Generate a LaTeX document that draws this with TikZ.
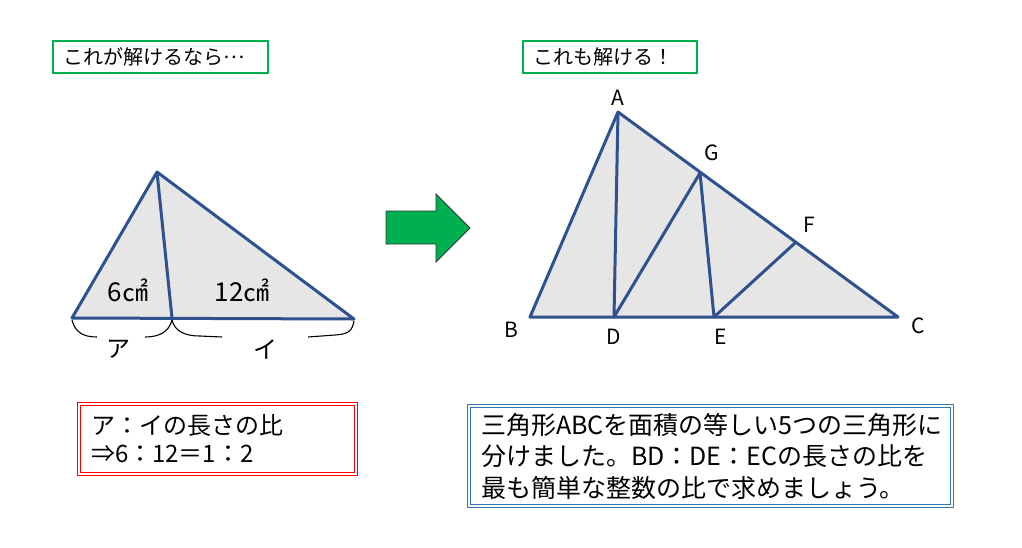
\documentclass[tikz,border=0pt]{standalone}
\usepackage{fontspec}
\setmainfont{Noto Sans CJK JP}
\definecolor{EdgeColor}{RGB}{47,82,143}
\definecolor{AreaColor}{RGB}{231,230,230}
\definecolor{HintColor}{RGB}{0,176,80}
\definecolor{NoteColor}{RGB}{255,0,0}
\definecolor{TaskColor}{RGB}{46,117,182}
\usetikzlibrary{positioning}
\tikzstyle{edge} = [line width=3pt, EdgeColor, line join=round]
\tikzstyle{area} = [edge, fill=AreaColor]
\tikzstyle{brace} = [line width=1.1pt, black]
\tikzstyle{vertex} = [inner sep=0pt, font=\fontsize{21}{24}\selectfont]
\tikzset{
  hint/.style={draw=HintColor, line width=1.5pt, minimum height=32pt, inner xsep=10pt, align=left, font=\fontsize{20}{24}\selectfont},
  note/.style={draw=NoteColor, line width=0.9pt, double=white, double distance=1.6pt, inner xsep=11pt, align=left, font=\fontsize{24}{28}\selectfont},
  task/.style={draw=TaskColor, line width=0.9pt, double=white, double distance=1.6pt, inner xsep=11pt, align=left, font=\fontsize{25}{31.5}\selectfont},
  go arrow/.style={fill=HintColor, draw=black!80, line width=0.8pt},
  size label/.style={inner sep=0pt, font=\fontsize{26}{30}\selectfont},
  part label/.style={inner sep=0pt, font=\fontsize{24}{28}\selectfont}
}
\begin{document}
\begin{tikzpicture}[x=1pt, y=-1pt]
  \useasboundingbox (0,0) rectangle (1022,547);

  % Captions
  \node[hint, text width=194pt, minimum width=215pt] (if) at (160.5,57) {これが解けるなら\raisebox{0.3em}{…}};
  \node[hint, text width=154pt, minimum width=174pt] (then) at (610,57) {これも解ける！};

  % Small triangle
  \coordinate (top) at (157,172);
  \coordinate (bl) at (72,318);
  \coordinate (br) at (354,319);
  \coordinate (foot) at (172,318);
  \filldraw[area] (top) -- (bl) -- (br) -- cycle;
  \draw[edge] (top) -- (foot);
  \node[size label] (six) at (128,290) {6㎠};
  \node[size label] (twelve) at (242,290) {12㎠};

  % Braces
  \draw[brace] ([yshift=-2pt]bl) .. controls +(3,12) and +(-14,0) .. (97,337);
  \draw[brace] (145,337) .. controls +(14,0) and +(-3,12) .. ([yshift=-2pt]foot);
  \draw[brace] ([yshift=-2pt]foot) .. controls +(3,12) and +(-14,0) .. (200,336) -- (222,337);
  \draw[brace] (308,337) -- (335,335) .. controls +(14,-1) and +(-2,10) .. ([yshift=-2pt]br);
  \node[part label] (pa) at (118,349) {ア};
  \node[part label] (pi) at (265,349) {イ};

  % Arrow
  \draw[go arrow] (386,211) -- (436,211) -- (436,194) -- (470,228) -- (436,262) -- (436,244) -- (386,244) -- cycle;

  % Big triangle
  \coordinate (A) at (618,112);
  \coordinate (B) at (530,317);
  \coordinate (C) at (898,317);
  \coordinate (D) at (614,317);
  \coordinate (E) at (714,317);
  \coordinate (G) at (700,173);
  \coordinate (F) at (795,243);
  \filldraw[area] (A) -- (B) -- (C) -- cycle;
  \draw[edge] (A) -- (D) -- (G) -- (E) -- (F);

  \node[vertex, above=6pt of A] (lA) {A};
  \node[vertex, above right=12pt and 4pt of G] (lG) {G};
  \node[vertex, above right=10pt and 8pt of F] (lF) {F};
  \node[vertex, below left=5pt and 12pt of B] (lB) {B};
  \node[vertex, below=12pt of D] (lD) {D};
  \node[vertex, below right=12pt and 0pt of E] (lE) {E};
  \node[vertex, below right=1pt and 13pt of C] (lC) {C};

  % Text boxes
  \node[note, text width=253pt, minimum width=277pt, minimum height=70pt] (ratio) at (217.5,439) {ア：イの長さの比\\⇒6：12＝1：2};
  \node[task, text width=459pt, minimum width=483pt, minimum height=100pt] (question) at (710.5,456) {三角形ABCを面積の等しい5つの三角形に\\分けました。BD：DE：ECの長さの比を\\最も簡単な整数の比で求めましょう。};
\end{tikzpicture}
\end{document}
